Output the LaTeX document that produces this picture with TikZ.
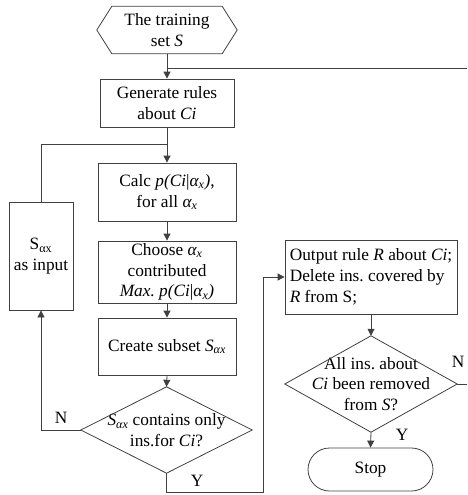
\documentclass[tikz,border=0pt]{standalone}
\usepackage{fontspec}
\setmainfont{Liberation Serif}
\frenchspacing
\usetikzlibrary{arrows.meta,shapes.misc}
\begin{document}
\begin{tikzpicture}[x=1pt,y=-1pt,
  every node/.style={font=\fontsize{17.3}{20.8}\selectfont\frenchspacing, inner sep=0pt},
  ln/.style={draw=black!75, line width=0.8pt},
  arr/.style={ln, -{Triangle[length=7pt,width=7pt]}},
  proc/.style={ln, rectangle, align=center},
  dmd/.style={align=center}
]
\useasboundingbox (0,0) rectangle (467,495);
% start hexagon
\node[minimum width=140pt, minimum height=47pt, align=center] (hex) at (167,30) {The training\\set \textit{S}};
\draw[ln] (hex.west) -- ([xshift=15pt]hex.north west) -- ([xshift=-15pt]hex.north east) -- (hex.east) -- ([xshift=-15pt]hex.south east) -- ([xshift=15pt]hex.south west) -- cycle;
% boxes
\node[proc, minimum width=134pt, minimum height=48pt] (gen) at (167,103) {Generate rules\\about \textit{Ci}};
\node[proc, minimum width=138pt, minimum height=58pt] (calc) at (167,192) {Calc \textit{p(Ci}|\textit{α\textsubscript{x})},\\for all \textit{α\textsubscript{x}}};
\node[proc, minimum width=138pt, minimum height=62pt] (choose) at (167,272) {Choose \textit{α\textsubscript{x}}\\contributed\\\textit{Max. p(Ci}|\textit{α\textsubscript{x})}};
\node[proc, minimum width=138pt, minimum height=57pt] (create) at (167,346.5) {Create subset \textit{S\textsubscript{αx}}};
\node[proc, minimum width=64pt, minimum height=108pt] (sax) at (41,256) {S\textsubscript{αx}\\as input};
% diamond 1
\node[dmd, minimum width=171pt, minimum height=86pt] (d1) at (166.5,430) {\textit{S\textsubscript{αx}} contains only\\ins.for \textit{Ci}?};
\draw[ln] (d1.north) -- (d1.east) -- (d1.south) -- (d1.west) -- cycle;
% output box
\node[proc, minimum width=172pt, minimum height=74pt, align=left] (out) at (371,277) {Output rule \textit{R} about \textit{Ci};\\Delete ins. covered by\\\textit{R} from S;};
% diamond 2
\node[dmd, minimum width=172pt, minimum height=96pt] (d2) at (371,384) {All ins. about\\\textit{Ci} been removed\\from \textit{S}?};
\draw[ln] (d2.north) -- (d2.east) -- (d2.south) -- (d2.west) -- cycle;
% stop
\node[ln, rounded rectangle, minimum width=125pt, minimum height=43pt] (stop) at (370.5,469.5) {Stop};
% coordinates
\coordinate (j1) at (167,68);
\coordinate (r1) at (467,68);
\coordinate (j2) at (167,144);
\coordinate (r2) at (467,384);
% connectors
\draw[arr] (hex.south) -- (gen.north);
\draw[ln] (j1) -- (r1);
\draw[arr] (gen.south) -- (calc.north);
\draw[ln] (sax.north) |- (j2);
\draw[arr] (calc.south) -- (choose.north);
\draw[arr] (choose.south) -- (create.north);
\draw[arr] (create.south) -- (d1.north);
\draw[arr] (d1.west) -| (sax.south);
\node at (61,418) {N};
\draw[arr] (d1.south) -- (166.5,492) -- (263,492) |- (out.west);
\node at (197,481) {Y};
\draw[arr] (out.south) -- (d2.north);
\draw[ln] (d2.east) -- (r2);
\node at (458,362) {N};
\draw[arr] (d2.south) -- (stop.north);
\node at (402,435) {Y};
\end{tikzpicture}
\end{document}
